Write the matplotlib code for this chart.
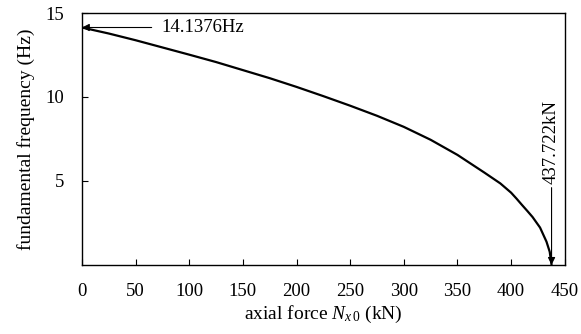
import numpy as np
import matplotlib
matplotlib.use('Agg')
import matplotlib.pyplot as plt

plt.rcParams['font.family'] = ['Liberation Serif', 'DejaVu Serif']
plt.rcParams['mathtext.fontset'] = 'custom'
plt.rcParams['mathtext.it'] = 'Liberation Serif:italic'
plt.rcParams['mathtext.rm'] = 'Liberation Serif'

# Datos: fuerza axial (kN) vs frecuencia fundamental (Hz)
axial_force = [0, 25, 50, 75, 100, 125, 150, 175, 200, 225, 250, 275,
               300, 325, 350, 375, 390, 400, 405, 410, 415, 420, 427,
               433, 436, 437.722]
frequency = [14.1376, 13.78, 13.38, 12.95, 12.52, 12.08, 11.60, 11.12,
             10.60, 10.05, 9.48, 8.88, 8.22, 7.45, 6.55, 5.50, 4.85,
             4.30, 3.95, 3.58, 3.22, 2.85, 2.22, 1.38, 0.78, 0.0]

f0 = 14.1376       # frecuencia sin carga
n_cr = 437.722     # carga crítica

x_ticks = [0, 50, 100, 150, 200, 250, 300, 350, 400, 450]
y_ticks = [5, 10, 15]

fig, ax = plt.subplots(figsize=(5.81, 3.34), dpi=100)
fig.subplots_adjust(left=0.141, right=0.972, top=0.961, bottom=0.207)

ax.plot(axial_force, frequency, color='black', lw=1.6)

ax.set_xlim(0, 450)
ax.set_ylim(0, 15)
ax.set_xticks(x_ticks)
ax.set_yticks(y_ticks)
ax.tick_params(direction='in', length=4, labelsize=13.5, pad=13)
for s in ax.spines.values():
    s.set_linewidth(1.0)

ax.set_xlabel(r'axial force $N_{x\,0}$ (kN)', fontsize=14, labelpad=3)
ax.set_ylabel('fundamental frequency (Hz)', fontsize=14, labelpad=7)

# Flecha horizontal hacia f0
ax.annotate('', xy=(0, f0), xytext=(65, f0),
            arrowprops=dict(arrowstyle='-|>', color='black', lw=0.8,
                            mutation_scale=11, shrinkA=0, shrinkB=0))
ax.text(74, f0, '14.1376Hz', fontsize=13.5, ha='left', va='center')

# Flecha vertical hacia la carga crítica
ax.annotate('', xy=(n_cr, 0), xytext=(n_cr, 4.6),
            arrowprops=dict(arrowstyle='-|>', color='black', lw=0.8,
                            mutation_scale=11, shrinkA=0, shrinkB=0))
ax.text(n_cr, 4.8, '437.722kN', fontsize=13.5, rotation=90,
        ha='center', va='bottom')

fig.savefig('out.png', dpi=100)
